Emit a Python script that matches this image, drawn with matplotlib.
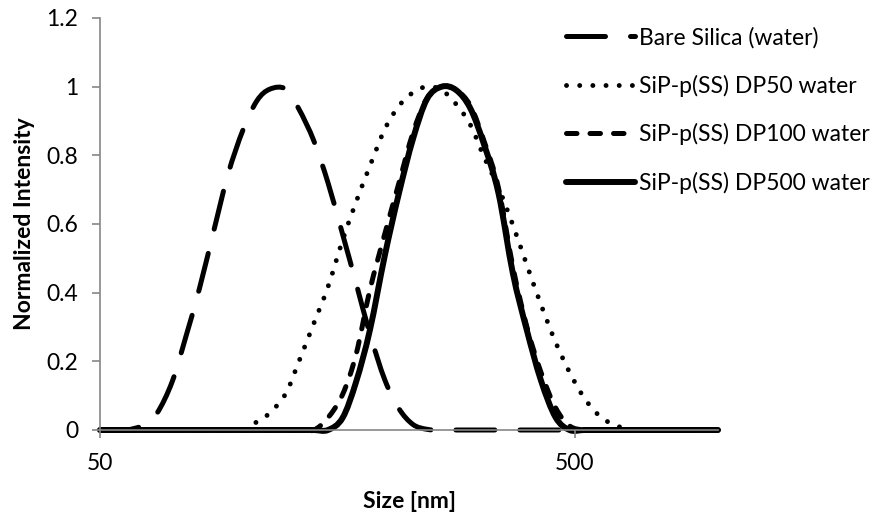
import matplotlib
matplotlib.use("Agg")
import numpy as np
import matplotlib.pyplot as plt
from matplotlib.path import Path
from matplotlib.patches import PathPatch
from matplotlib.lines import Line2D
from matplotlib.ticker import NullLocator, FixedLocator, FixedFormatter

plt.rcParams['font.family'] = ['Lato', 'DejaVu Sans']

# size bins (nm) and normalized intensities
size_nm = [50, 54, 57, 62, 66, 71, 76, 81, 87, 93,
           100, 107, 114, 123, 131, 141, 151, 162, 173, 185,
           199, 213, 228, 244, 262, 281, 301, 322, 345, 370,
           396, 424, 455, 487, 522, 559, 599, 642, 688, 737,
           790, 846, 907, 972, 1000]

bare_silica = [0, 0, 0, 0.015, 0.05, 0.142, 0.277, 0.413, 0.586, 0.745,
               0.874, 0.959, 0.993, 0.993, 0.936, 0.842, 0.72, 0.571, 0.428, 0.28,
               0.145, 0.062, 0.016, 0.002, 0, 0, 0, 0, 0, 0,
               0, 0, 0, 0, 0, 0, 0, 0, 0, 0,
               0, 0, 0, 0, 0]

dp50 = [0, 0, 0, 0, 0, 0, 0, 0, 0, 0,
        0, 0.024, 0.05, 0.106, 0.198, 0.311, 0.417, 0.552, 0.664, 0.769,
        0.877, 0.944, 0.983, 1.0, 0.99, 0.949, 0.889, 0.794, 0.706, 0.597,
        0.48, 0.365, 0.256, 0.168, 0.095, 0.045, 0.017, 0.004, 0, 0,
        0, 0, 0, 0, 0]

dp100 = [0, 0, 0, 0, 0, 0, 0, 0, 0, 0,
         0, 0, 0, 0, 0, 0, 0.036, 0.103, 0.22, 0.408,
         0.573, 0.72, 0.866, 0.966, 1.0, 0.99, 0.945, 0.84, 0.705, 0.475,
         0.30, 0.168, 0.065, 0.012, 0, 0, 0, 0, 0, 0,
         0, 0, 0, 0, 0]

dp500 = [0, 0, 0, 0, 0, 0, 0, 0, 0, 0,
         0, 0, 0, 0, 0, 0, 0, 0.035, 0.14, 0.291,
         0.51, 0.69, 0.848, 0.964, 1.0, 0.99, 0.937, 0.83, 0.69, 0.456,
         0.29, 0.144, 0.037, 0, 0, 0, 0, 0, 0, 0,
         0, 0, 0, 0, 0]

labels = ["Bare Silica (water)", "SiP-p(SS) DP50 water",
          "SiP-p(SS) DP100 water", "SiP-p(SS) DP500 water"]


def smooth_path(xs, ys):
    # excel style smoothed line: cubic bezier through the points (in log x)
    pts = np.column_stack([np.log10(xs), ys])
    n = len(pts)
    verts = [pts[0]]
    codes = [Path.MOVETO]
    for i in range(n - 1):
        p0 = pts[max(i - 1, 0)]
        p1 = pts[i]
        p2 = pts[i + 1]
        p3 = pts[min(i + 2, n - 1)]
        verts += [p1 + (p2 - p0) / 6, p2 - (p3 - p1) / 6, p2]
        codes += [Path.CURVE4] * 3
    verts = np.array(verts)
    verts[:, 0] = 10 ** verts[:, 0]
    return Path(verts, codes)


styles = [
    dict(lw=3.6, ls=(0, (7.8, 5.0))),
    dict(lw=3.5, ls=(0, (0.01, 2.7))),
    dict(lw=3.6, ls=(0, (2.1, 2.6))),
    dict(lw=4.3, ls='-'),
]

fig = plt.figure(figsize=(8.8, 5.19), dpi=100)
ax = fig.add_axes([100 / 880, 89 / 519, 618 / 880, 412 / 519])
ax.set_xscale('log')
ax.set_xlim(50, 1000)
ax.set_ylim(0, 1.2)

handles = []
for ys, st, lab in zip([bare_silica, dp50, dp100, dp500], styles, labels):
    patch = PathPatch(smooth_path(size_nm, ys), fill=False, edgecolor='black',
                      lw=st['lw'], linestyle=st['ls'], capstyle='round',
                      joinstyle='round', clip_on=False)
    ax.add_patch(patch)
    handles.append(Line2D([], [], color='black', lw=st['lw'], linestyle=st['ls'],
                          dash_capstyle='round', solid_capstyle='round', label=lab))

ax.xaxis.set_major_locator(FixedLocator([50, 500]))
ax.xaxis.set_major_formatter(FixedFormatter(["50", "500"]))
ax.xaxis.set_minor_locator(NullLocator())
ax.set_yticks([0, 0.2, 0.4, 0.6, 0.8, 1.0, 1.2])
ax.set_yticklabels(["0", "0.2", "0.4", "0.6", "0.8", "1", "1.2"])

for side in ['top', 'right']:
    ax.spines[side].set_visible(False)
for side in ['left', 'bottom']:
    ax.spines[side].set_color('#868686')
    ax.spines[side].set_linewidth(1.2)
ax.tick_params(axis='both', colors='#868686', labelcolor='black',
               labelsize=16.5, length=5.5, width=1.2)
ax.tick_params(axis='y', pad=10)
ax.tick_params(axis='x', pad=11)

ax.set_xlabel("Size [nm]", fontsize=16.5, fontweight='bold', labelpad=12)
ax.set_ylabel("Normalized Intensity", fontsize=16.5, fontweight='bold', labelpad=8)

fig.legend(handles=handles, loc='upper left', bbox_to_anchor=(566 / 880, 1 - 27 / 519),
           frameon=False, fontsize=16.5, handlelength=3.0, handletextpad=0.2,
           labelspacing=1.15, borderpad=0, borderaxespad=0)

fig.savefig("out.png", dpi=100)
